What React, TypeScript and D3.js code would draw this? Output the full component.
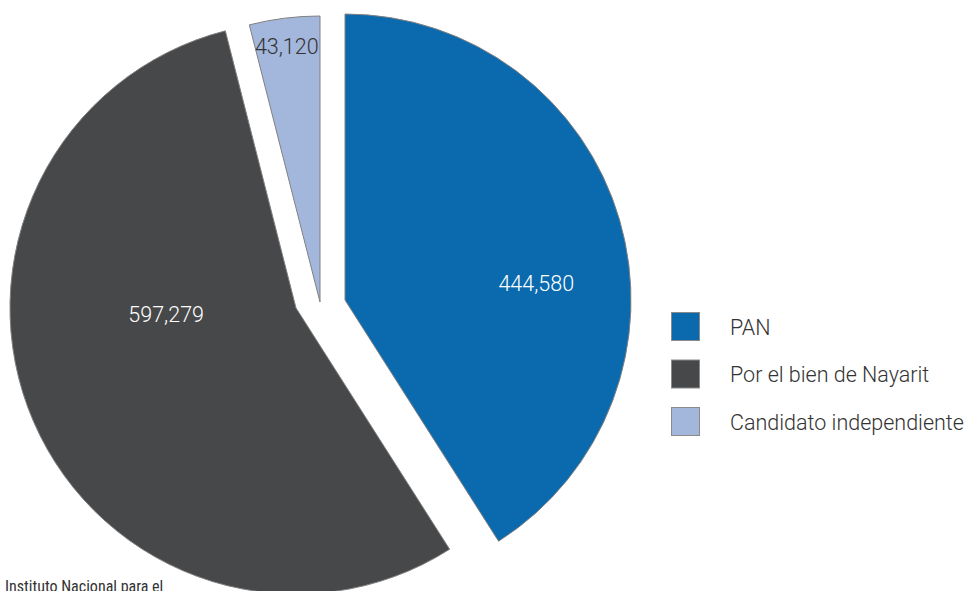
import * as d3 from 'd3';
import { useEffect } from 'react';

// Votos por candidatura
const parties = ['PAN', 'Por el bien de Nayarit', 'Candidato independiente'];
const votes = [444580, 597279, 43120];
const colors = ['#0b6aae', '#47484a', '#a3b6dc'];
const labelColors = ['#ffffff', '#ffffff', '#333333'];
const footer = 'Instituto Nacional para el';

// layout: where each exploded slice's tip sits, and where its label goes (polar from tip)
const baseCenter = { x: 320, y: 302 };
const sliceShift = [
  { dx: 25, dy: -2 },
  { dx: -24, dy: 6 },
  { dx: 0, dy: 0 },
];
const labelPolar = [
  { angle: 85, dist: 192 },
  { angle: 267, dist: 130 },
  { angle: 352.6, dist: 258 },
];

const W = 970;
const H = 591;
const radius = 286;

export default function App() {
  useEffect(() => {
    document.body.style.margin = '0';
  }, []);

  const pie = d3
    .pie<number>()
    .sort(null)
    .value((d) => d)
    .startAngle(0)
    .endAngle(2 * Math.PI);
  const arcs = pie(votes);
  const arc = d3.arc<d3.PieArcDatum<number>>().innerRadius(0).outerRadius(radius);

  const font = "'Helvetica Neue', Roboto, 'Liberation Sans', sans-serif";

  return (
    <svg width={W} height={H} style={{ display: 'block', background: '#fff' }}>
      {arcs.map((a, i) => {
        const cx = baseCenter.x + sliceShift[i].dx;
        const cy = baseCenter.y + sliceShift[i].dy;
        const ang = (labelPolar[i].angle * Math.PI) / 180;
        const lx = Math.sin(ang) * labelPolar[i].dist;
        const ly = -Math.cos(ang) * labelPolar[i].dist;
        return (
          <g key={parties[i]} transform={`translate(${cx},${cy})`}>
            <path
              d={arc(a) ?? ''}
              fill={colors[i]}
              stroke="#808080"
              strokeWidth={1}
            />
            <text
              x={lx}
              y={ly}
              textAnchor="middle"
              dominantBaseline="central"
              fontFamily={font}
              fontWeight={300}
              fontSize={21.5}
              fill={labelColors[i]}
            >
              {d3.format(',')(votes[i])}
            </text>
          </g>
        );
      })}

      {/* Legend */}
      <g transform="translate(671,312)">
        {parties.map((p, i) => (
          <g key={p} transform={`translate(0,${i * 47.5})`}>
            <rect
              x={0.5}
              y={0.5}
              width={28}
              height={28}
              fill={colors[i]}
              stroke="#8a8a8a"
              strokeWidth={1}
            />
            <text
              x={59}
              y={15}
              dominantBaseline="central"
              fontFamily={font}
              fontWeight={300}
              fontSize={21.5}
              fill="#333"
            >
              {p}
            </text>
          </g>
        ))}
      </g>

      <text
        x={5}
        y={592}
        fontFamily="'Liberation Sans Narrow', 'Roboto Condensed', 'Liberation Sans', sans-serif"
        fontSize={16}
        fill="#333"
      >
        {footer}
      </text>
    </svg>
  );
}
